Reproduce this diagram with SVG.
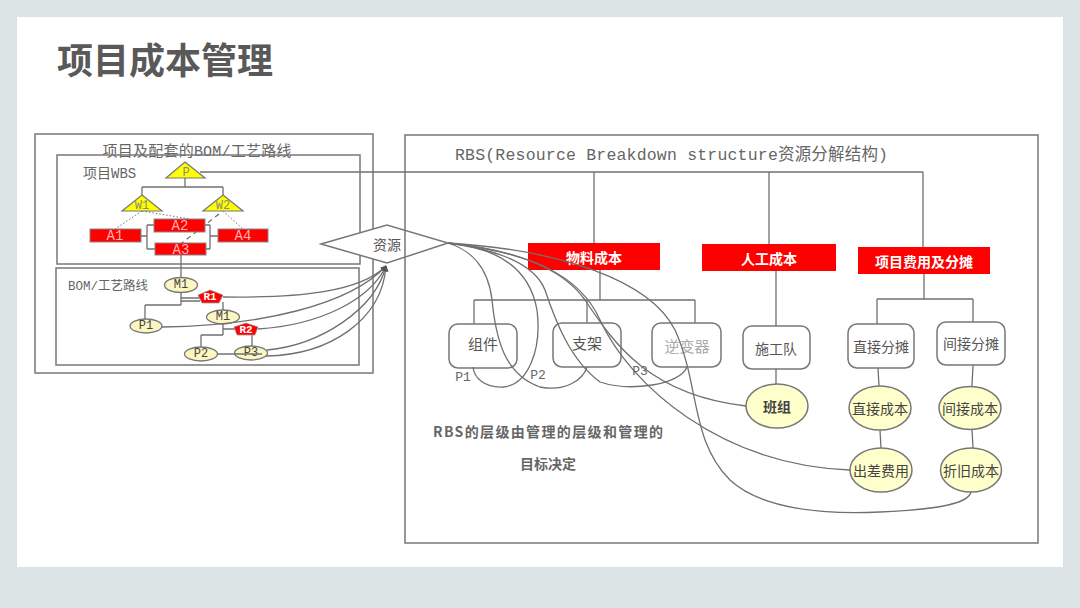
<svg xmlns="http://www.w3.org/2000/svg" width="1080" height="608" viewBox="0 0 1080 608">
<defs>
<style>
.ln{stroke:#707070;stroke-width:1.3;fill:none}
.frame{fill:none;stroke:#777;stroke-width:1.5}
.rb{fill:#fff;stroke:#777;stroke-width:1.5}
.el{fill:#ffffcc;stroke:#777;stroke-width:1.5}
.sel{fill:#fcf7c0;stroke:#777;stroke-width:1.3}
.red{fill:#ff0000}
.tri{fill:#ffff00;stroke:#777;stroke-width:1.2}
.ar{fill:#ff0000;stroke:#999;stroke-width:0.8}
.t{font-family:"Noto Sans CJK SC",sans-serif;fill:#555}
.m{font-family:"Liberation Mono","Noto Sans CJK SC",monospace;fill:#666}
.c{text-anchor:middle;dominant-baseline:central}
.w{fill:#fff;font-weight:bold}
</style>
<marker id="arr" viewBox="0 0 10 10" refX="9" refY="5" markerWidth="6" markerHeight="6" orient="auto-start-reverse" markerUnits="userSpaceOnUse">
<path d="M0,0 L10,5 L0,10 z" fill="#555"/>
</marker>
</defs>
<rect x="0" y="0" width="1080" height="608" fill="#dce3e5"/>
<rect x="17" y="17" width="1046" height="550" fill="#fff"/>
<text x="57" y="74" class="t" style="font-size:36px;font-weight:bold;fill:#595959">项目成本管理</text>

<!-- left panel frames -->
<g id="left-panel">
<rect x="35" y="134" width="338" height="239" class="frame"/>
<text x="197" y="156" class="m" style="font-size:15px;text-anchor:middle" textLength="189" lengthAdjust="spacing">项目及配套的BOM/工艺路线</text>
<rect x="57" y="155" width="303" height="109" class="frame"/>
<text x="83" y="178" class="m" style="font-size:14px">项目WBS</text>
<rect x="56" y="268" width="303" height="97" class="frame"/>
<text x="68" y="290" class="m" style="font-size:12.5px">BOM/工艺路线</text>
</g>

<!-- WBS connectors -->
<g id="wbs-connectors">
<path class="ln" d="M185,178 V187 M142,187 H223 M142,187 V196 M223,187 V196"/>
<path class="ln" d="M141,236 H147 M147,225 V249 M147,225 H154 M147,249 H155 M205,225 H210 M206,249 H210 M210,225 V249 M210,236 H218"/>
<path class="ln" d="M181,255 V278"/>
<path d="M142,211 L115,229 M142,211 L190,219 M223,211 L243,229" stroke="#777" stroke-width="1" stroke-dasharray="1.5,2" fill="none"/>
<path d="M219,214 L178,246" stroke="#666" stroke-width="1.2" stroke-dasharray="5,4" fill="none"/>
</g>

<g id="node-P"><polygon class="tri" points="185,162 205,178 166,178"/><text x="186" y="173" class="m c" style="font-size:12px;fill:#888">P</text></g>
<g id="node-W1"><polygon class="tri" points="142,195 162,211 122,211"/><text x="142" y="206" class="m c" style="font-size:12px;fill:#888">W1</text></g>
<g id="node-W2"><polygon class="tri" points="223,195 243,211 203,211"/><text x="223" y="206" class="m c" style="font-size:12px;fill:#888">W2</text></g>
<g id="node-A1"><rect x="90" y="229" width="51" height="13" class="red" stroke="#888"/><text x="115" y="236" class="m c" style="font-size:14px;fill:#ffb3b3">A1</text></g>
<g id="node-A2"><rect x="154" y="219" width="51" height="13" class="red" stroke="#888"/><text x="180" y="226" class="m c" style="font-size:14px;fill:#ffb3b3">A2</text></g>
<g id="node-A3"><rect x="155" y="243" width="51" height="12" class="red" stroke="#888"/><text x="181" y="250" class="m c" style="font-size:14px;fill:#ffb3b3">A3</text></g>
<g id="node-A4"><rect x="218" y="229" width="50" height="13" class="red" stroke="#888"/><text x="243" y="236" class="m c" style="font-size:14px;fill:#ffb3b3">A4</text></g>

<!-- BOM connectors -->
<g id="bom-connectors">
<path class="ln" d="M181,292 V305 M181,298 H200 M181,301 H200 M145,305 H181 M145,305 V319"/>
<path class="ln" d="M223,302 V310 M223,324 V335 M201,335 H223 M201,335 V347 M223,329 H236 M252,334 V347"/>
</g>
<g id="node-M1a"><ellipse cx="181" cy="285" rx="16.5" ry="7.5" class="sel"/><text x="181" y="285" class="m c" style="font-size:12px;fill:#444">M1</text></g>
<g id="node-R1"><polygon class="ar" points="210,290 223,295 219,303 202,303 198,295"/><text x="210" y="297" class="m c" style="font-size:11px;fill:#fff;font-weight:bold">R1</text></g>
<g id="node-P1"><ellipse cx="146" cy="326" rx="16" ry="7" class="sel"/><text x="146" y="326" class="m c" style="font-size:12px;fill:#444">P1</text></g>
<g id="node-M1b"><ellipse cx="223" cy="317" rx="16.5" ry="7" class="sel"/><text x="223" y="317" class="m c" style="font-size:12px;fill:#444">M1</text></g>
<g id="node-R2"><polygon class="ar" points="246,323 258,327 255,335 237,335 234,327"/><text x="246" y="330" class="m c" style="font-size:11px;fill:#fff;font-weight:bold">R2</text></g>
<g id="node-P2"><ellipse cx="201" cy="354" rx="16.5" ry="7" class="sel"/><text x="201" y="354" class="m c" style="font-size:12px;fill:#444">P2</text></g>
<g id="node-P3"><ellipse cx="251" cy="353" rx="16.5" ry="7" class="sel"/><text x="251" y="353" class="m c" style="font-size:12px;fill:#444">P3</text></g>
<path class="ln" d="M217,354 H262"/>

<!-- curves into 资源 -->
<g id="in-connectors">
<path class="ln" d="M223,297 C300,298 360,292 386,266" marker-end="url(#arr)"/>
<path class="ln" d="M162,327 C260,326 350,305 386,266" marker-end="url(#arr)"/>
<path class="ln" d="M258,329 C320,325 370,300 386,266" marker-end="url(#arr)"/>
<path class="ln" d="M267,350 C320,345 375,310 386,266" marker-end="url(#arr)"/>
<path class="ln" d="M266,356 C330,355 382,320 386,266" marker-end="url(#arr)"/>
</g>

<g id="node-resource"><polygon points="321,244 387,225 448,243 387,263" fill="#fff" stroke="#777" stroke-width="1.5"/><text x="387" y="244" class="t c" style="font-size:14px">资源</text></g>

<!-- right panel frame -->
<g id="right-panel">
<rect x="405" y="135" width="633" height="408" class="frame"/>
<text x="455" y="160" class="m" style="font-size:16.5px" textLength="433" lengthAdjust="spacing">RBS(Resource Breakdown structure资源分解结构)</text>
<text x="433" y="437" class="t" style="font-size:14px;font-weight:bold;fill:#666" textLength="230" lengthAdjust="spacing">RBS的层级由管理的层级和管理的</text>
<text x="548" y="469" class="t" style="font-size:14px;font-weight:bold;fill:#666;text-anchor:middle">目标决定</text>
</g>

<!-- tree connectors -->
<g id="tree-connectors">
<path class="ln" d="M200,172 H923 M594,172 V243 M769,172 V244 M923,172 V247"/>
<path class="ln" d="M600,270 V300 M474,300 H695 M474,300 V324 M587,300 V323 M695,300 V323"/>
<path class="ln" d="M776,271 V326 M776,369 V384"/>
<path class="ln" d="M924,274 V299 M877,299 H973 M877,299 V324 M973,299 V322"/>
<path class="ln" d="M878,368 L879,386 M880,430 L881,448 M973,365 L972,386 M972,429 L973,448"/>
</g>

<g id="node-material"><rect x="528" y="243" width="132" height="27" class="red"/><text x="594" y="257" class="t c w" style="font-size:14px">物料成本</text></g>
<g id="node-labor"><rect x="702" y="244" width="134" height="27" class="red"/><text x="769" y="258" class="t c w" style="font-size:14px">人工成本</text></g>
<g id="node-expense"><rect x="858" y="247" width="132" height="27" class="red"/><text x="924" y="261" class="t c w" style="font-size:14px">项目费用及分摊</text></g>

<g id="node-zujian"><rect x="449" y="324" width="68" height="44" rx="9" class="rb"/><text x="483" y="343" class="t c" style="font-size:15px">组件</text></g>
<g id="node-zhijia"><rect x="553" y="323" width="68" height="44" rx="9" class="rb"/><text x="587" y="342" class="t c" style="font-size:15px">支架</text></g>
<g id="node-nibianqi"><rect x="652" y="323" width="69" height="44" rx="9" class="rb"/><text x="687" y="345" class="t c" style="font-size:15px;fill:#aaa">逆变器</text></g>
<g id="node-shigongdui"><rect x="743" y="326" width="67" height="43" rx="9" class="rb"/><text x="776" y="348" class="t c" style="font-size:14px">施工队</text></g>
<g id="node-zhijiefentan"><rect x="848" y="324" width="66" height="44" rx="9" class="rb"/><text x="881" y="346" class="t c" style="font-size:14px">直接分摊</text></g>
<g id="node-jianjiefentan"><rect x="937" y="322" width="68" height="43" rx="9" class="rb"/><text x="971" y="343" class="t c" style="font-size:14px">间接分摊</text></g>

<g id="node-banzu"><ellipse cx="777" cy="406" rx="31" ry="22" class="el"/><text x="777" y="406" class="t c" style="font-size:14px;fill:#444;font-weight:bold">班组</text></g>
<g id="node-zhijiechengben"><ellipse cx="880" cy="408" rx="31" ry="22" class="el"/><text x="880" y="408" class="t c" style="font-size:14px;fill:#444">直接成本</text></g>
<g id="node-jianjiechengben"><ellipse cx="970" cy="408" rx="31" ry="21.5" class="el"/><text x="970" y="408" class="t c" style="font-size:14px;fill:#444">间接成本</text></g>
<g id="node-chuchai"><ellipse cx="881" cy="470" rx="31" ry="22" class="el"/><text x="881" y="470" class="t c" style="font-size:14px;fill:#444">出差费用</text></g>
<g id="node-zhejiu"><ellipse cx="971" cy="470" rx="30.5" ry="22" class="el"/><text x="971" y="470" class="t c" style="font-size:14px;fill:#444">折旧成本</text></g>

<!-- curves out of 资源 -->
<g id="out-connectors">
<path class="ln" d="M448,243 C500,248 530,270 537,310 C542,350 528,385 503,387 C485,388 474,378 473,367"/>
<path class="ln" d="M448,243 C470,250 488,265 492,300 C496,340 505,375 540,387 C565,392 583,380 587,367"/>
<path class="ln" d="M448,243 C500,250 535,265 545,290 C555,320 570,360 600,382 C630,392 680,385 687,367"/>
<path class="ln" d="M448,243 C510,250 560,265 585,300 C615,345 650,395 746,406"/>
<path class="ln" d="M448,243 C530,252 580,275 600,320 C630,385 720,465 850,470"/>
<path class="ln" d="M448,243 C560,250 650,280 675,330 C700,385 690,440 730,480 C760,508 820,515 880,512 C930,510 968,505 971,492"/>
</g>
<text x="463" y="381" class="m" style="font-size:13px;text-anchor:middle">P1</text>
<text x="538" y="379" class="m" style="font-size:13px;text-anchor:middle">P2</text>
<text x="640" y="375" class="m" style="font-size:13px;text-anchor:middle">P3</text>
</svg>
